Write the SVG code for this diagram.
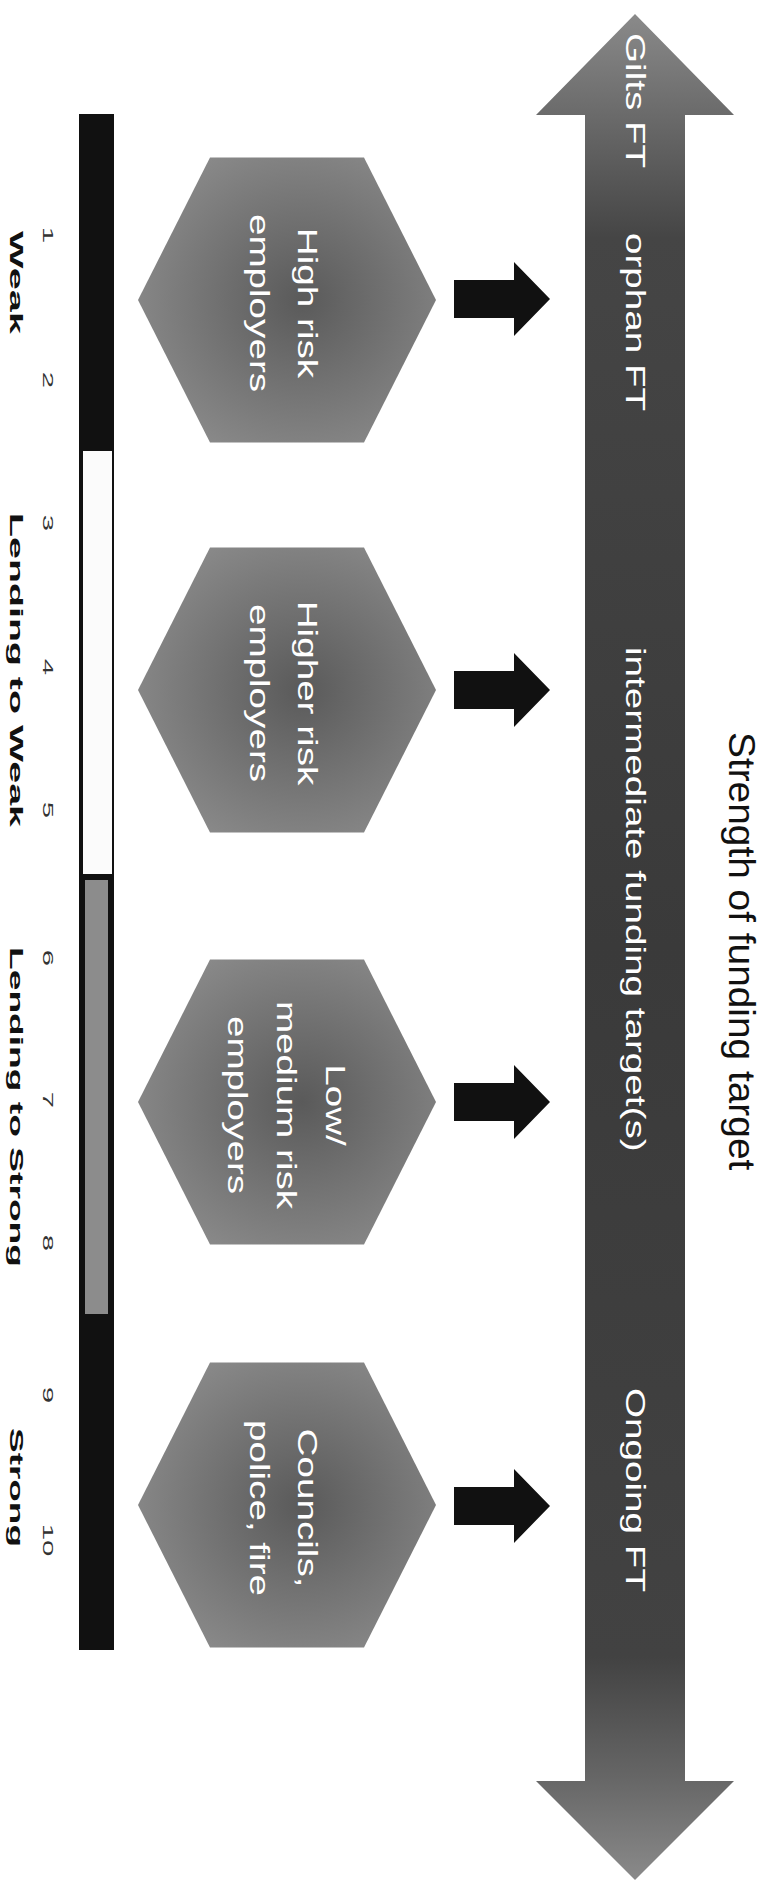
<svg xmlns="http://www.w3.org/2000/svg" width="765" height="1888" viewBox="0 0 765 1888">
<defs>
<style>
.ax{font-family:"Liberation Sans",Arial,sans-serif;font-size:28px;fill:#ffffff}
.hx{font-family:"Liberation Sans",Arial,sans-serif;font-size:28px;fill:#ffffff;text-anchor:middle}
.ttl{font-family:"Liberation Sans",Arial,sans-serif;font-size:37px;fill:#111111}
.num{font-family:"Liberation Sans",Arial,sans-serif;font-size:14px;fill:#333333;text-anchor:middle}
.lab{font-family:"Liberation Sans",Arial,sans-serif;font-size:19px;font-weight:bold;fill:#111111}
.hex{fill:url(#hexg)}
.con{fill:#111111}
</style>
<linearGradient id="axg" gradientUnits="userSpaceOnUse" x1="0" y1="14" x2="0" y2="1880">
<stop offset="0" stop-color="#8a8a8a"/>
<stop offset="0.055" stop-color="#6a6a6a"/>
<stop offset="0.12" stop-color="#454545"/>
<stop offset="0.5" stop-color="#3a3a3a"/>
<stop offset="0.88" stop-color="#424242"/>
<stop offset="0.945" stop-color="#666666"/>
<stop offset="1" stop-color="#8a8a8a"/>
</linearGradient>
<radialGradient id="hexg" cx="0.55" cy="0.5" r="0.6">
<stop offset="0" stop-color="#5a5a5a"/>
<stop offset="1" stop-color="#8a8a8a"/>
</radialGradient>
</defs>
<rect x="0" y="0" width="765" height="1888" fill="#ffffff"/>

<g id="axis-arrow">
<polygon points="635,14 734,115 685,115 685,1781 734,1781 635,1880 536,1781 585,1781 585,115 536,115" fill="url(#axg)"/>
<text class="ax" transform="translate(626,33) rotate(90) scale(1.38,1)">Gilts FT</text>
<text class="ax" transform="translate(626,233) rotate(90) scale(1.38,1)">orphan FT</text>
<text class="ax" transform="translate(626,647) rotate(90) scale(1.38,1)">intermediate funding target(s)</text>
<text class="ax" transform="translate(626,1388) rotate(90) scale(1.38,1)">Ongoing FT</text>
</g>

<g id="axis-title">
<text class="ttl" transform="translate(729,732) rotate(90) scale(1.05,1)">Strength of funding target</text>
</g>

<g id="scale-bar">
<rect x="79" y="114" width="35" height="1536" fill="#111111"/>
<rect x="83" y="451" width="29" height="423" fill="#fbfbfb"/>
<rect x="85" y="880" width="23" height="434" fill="#8c8c8c"/>
<text class="num" transform="translate(43,235) rotate(90) scale(2.1,1)">1</text>
<text class="num" transform="translate(43,380) rotate(90) scale(2.1,1)">2</text>
<text class="num" transform="translate(43,523) rotate(90) scale(2.1,1)">3</text>
<text class="num" transform="translate(43,667) rotate(90) scale(2.1,1)">4</text>
<text class="num" transform="translate(43,810) rotate(90) scale(2.1,1)">5</text>
<text class="num" transform="translate(43,958) rotate(90) scale(2.1,1)">6</text>
<text class="num" transform="translate(43,1100) rotate(90) scale(2.1,1)">7</text>
<text class="num" transform="translate(43,1243) rotate(90) scale(2.1,1)">8</text>
<text class="num" transform="translate(43,1395) rotate(90) scale(2.1,1)">9</text>
<text class="num" transform="translate(43,1540) rotate(90) scale(2.1,1)">10</text>
<text class="lab" transform="translate(10,231) rotate(90)" textLength="103" lengthAdjust="spacingAndGlyphs">Weak</text>
<text class="lab" transform="translate(10,513) rotate(90)" textLength="314" lengthAdjust="spacingAndGlyphs">Lending to Weak</text>
<text class="lab" transform="translate(10,947) rotate(90)" textLength="320" lengthAdjust="spacingAndGlyphs">Lending to Strong</text>
<text class="lab" transform="translate(10,1428) rotate(90)" textLength="119" lengthAdjust="spacingAndGlyphs">Strong</text>
</g>

<g id="node-high-risk">
<polygon class="hex" points="138,300 210,157.5 364,157.5 436,300 364,442.5 210,442.5"/>
<text class="hx" transform="translate(298,303) rotate(90) scale(1.38,1)">High risk</text>
<text class="hx" transform="translate(250,303) rotate(90) scale(1.38,1)">employers</text>
</g>

<g id="node-higher-risk">
<polygon class="hex" points="138,690 210,547.5 364,547.5 436,690 364,832.5 210,832.5"/>
<text class="hx" transform="translate(298,693) rotate(90) scale(1.38,1)">Higher risk</text>
<text class="hx" transform="translate(250,693) rotate(90) scale(1.38,1)">employers</text>
</g>

<g id="node-low-medium-risk">
<polygon class="hex" points="138,1102 210,959.5 364,959.5 436,1102 364,1244.5 210,1244.5"/>
<text class="hx" transform="translate(326,1105) rotate(90) scale(1.38,1)">Low/</text>
<text class="hx" transform="translate(277,1105) rotate(90) scale(1.38,1)">medium risk</text>
<text class="hx" transform="translate(228,1105) rotate(90) scale(1.38,1)">employers</text>
</g>

<g id="node-councils">
<polygon class="hex" points="138,1505 210,1362.5 364,1362.5 436,1505 364,1647.5 210,1647.5"/>
<text class="hx" transform="translate(298,1508) rotate(90) scale(1.38,1)">Councils,</text>
<text class="hx" transform="translate(250,1508) rotate(90) scale(1.38,1)">police, fire</text>
</g>

<g id="connectors">
<polygon class="con" points="454,280 514,280 514,262 550,299 514,336 514,318 454,318"/>
<polygon class="con" points="454,671 514,671 514,653 550,690 514,727 514,709 454,709"/>
<polygon class="con" points="454,1083 514,1083 514,1065 550,1102 514,1139 514,1121 454,1121"/>
<polygon class="con" points="454,1487 514,1487 514,1469 550,1506 514,1543 514,1525 454,1525"/>
</g>
</svg>
